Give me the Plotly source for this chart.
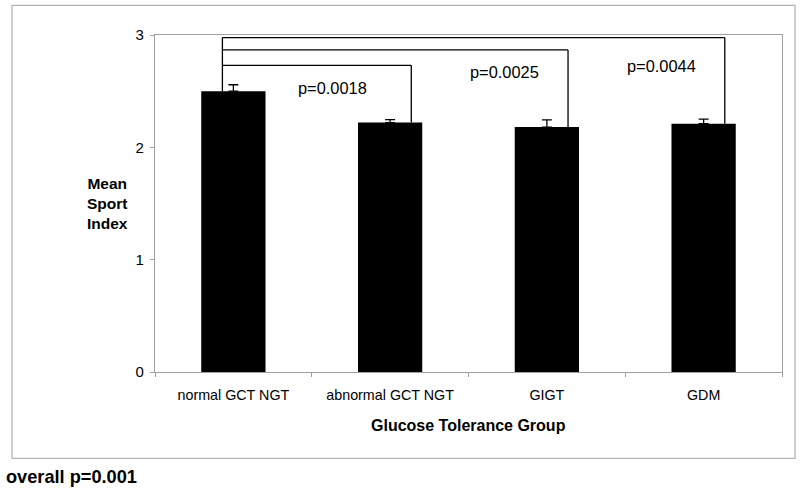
import plotly.graph_objects as go

categories = ["normal GCT NGT", "abnormal GCT NGT", "GIGT", "GDM"]
mean_sport_index = [2.50, 2.22, 2.18, 2.21]
sem = [0.057, 0.027, 0.065, 0.042]
# comparisons vs. normal GCT NGT: target group index, bracket level, p label
cmp_targets = [1, 2, 3]
cmp_levels = [2.73, 2.867, 2.977]
cmp_labels = ["p=0.0018", "p=0.0025", "p=0.0044"]
overall_label = "overall p=0.001"

FONT = "Liberation Sans, Arial, sans-serif"
GRAY = "#a0a0a0"

fig = go.Figure()
fig.add_trace(go.Bar(
    x=categories, y=mean_sport_index,
    marker=dict(color="black", line=dict(width=0)),
    width=0.41,
    error_y=dict(type="data", array=sem, arrayminus=[0] * len(sem), symmetric=False,
                 color="black", thickness=1.3, width=5),
    showlegend=False,
))

# bracket shapes
left_x = -0.07
right_off = 0.135
shapes = []
for t, lvl in zip(cmp_targets, cmp_levels):
    rx = t + right_off
    shapes.append(dict(type="line", xref="x", yref="y", x0=left_x, x1=rx, y0=lvl, y1=lvl,
                       line=dict(color="black", width=1.3)))
    shapes.append(dict(type="line", xref="x", yref="y", x0=rx, x1=rx, y0=lvl, y1=mean_sport_index[t],
                       line=dict(color="black", width=1.3)))
shapes.append(dict(type="line", xref="x", yref="y", x0=left_x, x1=left_x,
                   y0=max(cmp_levels), y1=mean_sport_index[0],
                   line=dict(color="black", width=1.3)))
# outer frame
shapes.append(dict(type="rect", xref="paper", yref="paper",
                   x0=(12 - 155) / 627, x1=(795 - 155) / 627,
                   y0=(371.7 - 458) / 337, y1=(371.7 - 5) / 337,
                   line=dict(color="#b4b4b4", width=1.3), layer="below"))

annotations = []
p_pos = [(0.63, 2.53), (1.73, 2.675), (2.73, 2.72)]
for (px, py), lab in zip(p_pos, cmp_labels):
    annotations.append(dict(x=px, y=py, xref="x", yref="y", text=lab, showarrow=False,
                            font=dict(size=16.4, color="black", family=FONT)))
annotations.append(dict(x=(107.5 - 155) / 627, y=(371.7 - 203.5) / 337, xref="paper", yref="paper",
                        xanchor="center", yanchor="middle",
                        text="<b>Mean</b><br><b>Sport</b><br><b>Index</b>", showarrow=False,
                        font=dict(size=15.5, color="black", family=FONT), align="center"))
annotations.append(dict(x=(468 - 155) / 627, y=(371.7 - 425) / 337, xref="paper", yref="paper",
                        xanchor="center", yanchor="middle",
                        text="<b>Glucose Tolerance Group</b>", showarrow=False,
                        font=dict(size=16, color="black", family=FONT)))
annotations.append(dict(x=(4 - 155) / 627, y=(371.7 - 477) / 337, xref="paper", yref="paper",
                        xanchor="left", yanchor="middle",
                        text="<b>" + overall_label + "</b>", showarrow=False,
                        font=dict(size=18.2, color="black", family=FONT)))

fig.update_layout(
    width=800, height=492,
    margin=dict(l=155, r=18, t=34.7, b=120.3),
    paper_bgcolor="white", plot_bgcolor="white",
    shapes=shapes, annotations=annotations,
    font=dict(family=FONT, color="black"),
    xaxis=dict(type="category", tickson="boundaries", ticks="outside", ticklen=4,
               tickcolor=GRAY, showline=True, linecolor=GRAY, linewidth=1.3, mirror=True,
               showgrid=False, tickfont=dict(size=14.3, color="black"), range=[-0.5, 3.5],
               ticklabelstandoff=10),
    yaxis=dict(range=[0, 3], tickvals=[0, 1, 2, 3], ticks="outside", ticklen=4,
               tickcolor=GRAY, showline=True, linecolor=GRAY, linewidth=1.3, mirror=True,
               showgrid=False, zeroline=False, tickfont=dict(size=15, color="black"),
               ticklabelstandoff=3),
)

fig.write_html("out.html", config={"responsive": False, "displayModeBar": False},
               post_script="document.body.style.margin='0px';document.body.style.overflow='hidden';")
